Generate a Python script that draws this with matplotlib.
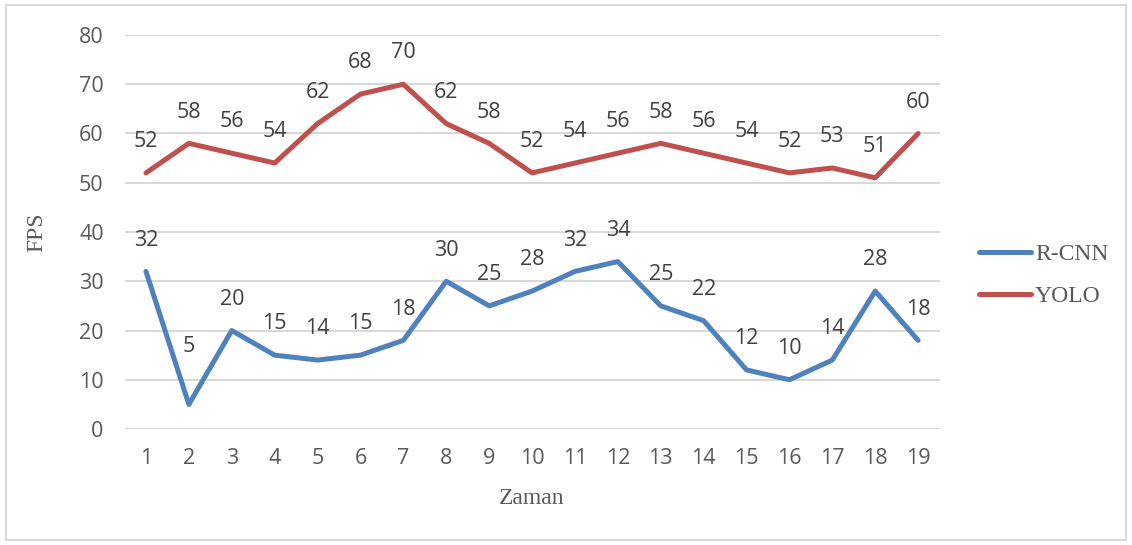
"""
FPS over time for R-CNN and YOLO, Excel-style line chart with data labels.
"""

import matplotlib
matplotlib.use("Agg")
import matplotlib.pyplot as plt
import matplotlib.patches as patches

# Data
zaman = list(range(1, 20))
rcnn_fps = [32, 5, 20, 15, 14, 15, 18, 30, 25, 28, 32, 34, 25, 22, 12, 10, 14, 28, 18]
yolo_fps = [52, 58, 56, 54, 62, 68, 70, 62, 58, 52, 54, 56, 58, 56, 54, 52, 53, 51, 60]
y_ticks = [0, 10, 20, 30, 40, 50, 60, 70, 80]

BLUE = '#4F81BD'
RED = '#C0504D'
GRID = '#D9D9D9'
TICK_COLOR = '#595959'
LABEL_COLOR = '#404040'
SANS = 'Open Sans'
SERIF = 'Liberation Serif'

# label offsets in points (the "5" label was nudged up in the original)
LABEL_OFFSET = 22.5
extra_offset = {('R-CNN', 2): 19}

fig = plt.figure(figsize=(11.32, 5.45), dpi=100)
ax = fig.add_axes([0.110, 0.2128, 0.720, 0.723])

series = [('R-CNN', rcnn_fps, BLUE), ('YOLO', yolo_fps, RED)]
for name, vals, color in series:
    ax.plot(zaman, vals, color=color, lw=3.6, solid_capstyle='round',
            solid_joinstyle='round', label=name, zorder=3)
    for x, v in zip(zaman, vals):
        off = LABEL_OFFSET + extra_offset.get((name, x), 0)
        ax.annotate(str(v), (x, v), xytext=(0, off), textcoords='offset points',
                    ha='center', va='center', fontsize=15.5, family=SANS,
                    color=LABEL_COLOR, zorder=4)

ax.set_xlim(0.5, 19.5)
ax.set_ylim(0, 80)
ax.set_yticks(y_ticks)
ax.set_xticks(zaman)
ax.grid(axis='y', color=GRID, lw=1.5, zorder=0)
ax.set_axisbelow(True)
for s in ax.spines.values():
    s.set_visible(False)
ax.tick_params(axis='both', length=0, labelsize=15.5, labelcolor=TICK_COLOR)
ax.tick_params(axis='y', pad=15)
ax.tick_params(axis='x', pad=14)
for lab in ax.get_xticklabels() + ax.get_yticklabels():
    lab.set_family(SANS)

ax.set_xlabel('Zaman', family=SERIF, fontsize=17, color=TICK_COLOR, labelpad=13)
ax.set_ylabel('FPS', family=SERIF, fontsize=17, color=TICK_COLOR, labelpad=23)

leg = ax.legend(loc='center left', bbox_to_anchor=(1.049, 0.39), frameon=False,
                prop={'family': SERIF, 'size': 17}, handlelength=2.2,
                handletextpad=0.15, labelspacing=0.85, borderaxespad=0,
                borderpad=0)
for t in leg.get_texts():
    t.set_color(TICK_COLOR)

# outer chart border
border = patches.Rectangle((0.005, 0.01), 0.99, 0.98, transform=fig.transFigure,
                           fill=False, ec=GRID, lw=1.5)
fig.patches.append(border)

fig.savefig('out.png', dpi=100, facecolor='white')
